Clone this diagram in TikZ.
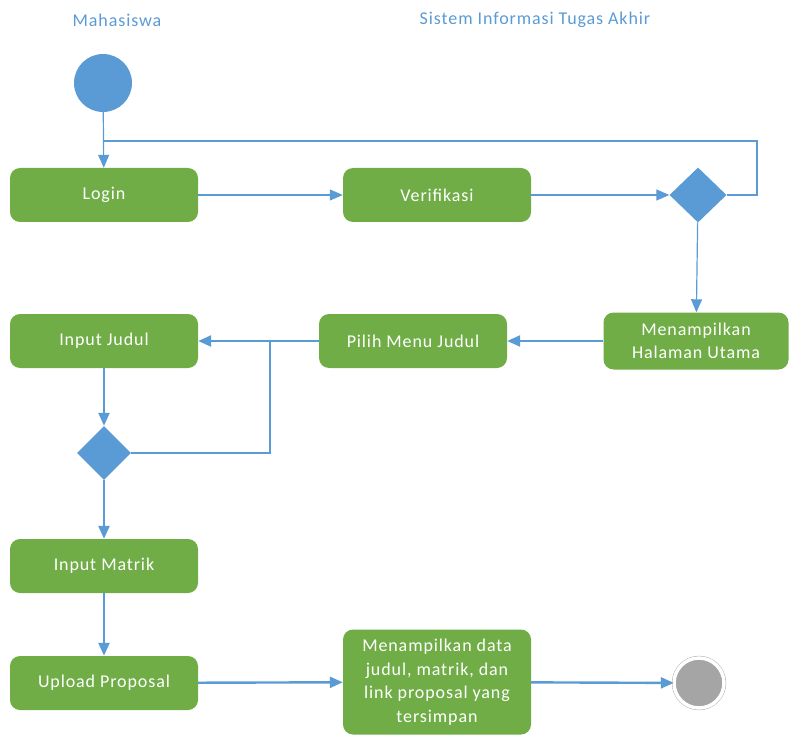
\documentclass[tikz,border=0pt]{standalone}
\usepackage{fontspec}
\setmainfont{Carlito}[LetterSpace=5]
\usepackage{tikz}
\usetikzlibrary{arrows.meta,shapes.geometric}
\definecolor{actgreen}{RGB}{112,173,71}
\definecolor{flowblue}{RGB}{91,155,213}
\definecolor{endgray}{RGB}{165,165,165}

\begin{document}
\begin{tikzpicture}[x=1pt,y=-1pt,>={Triangle[length=13pt,width=11pt]},font=\fontsize{18}{23.5}\selectfont]
\tikzstyle{act}=[rectangle,rounded corners=10pt,fill=actgreen,text=white,minimum width=188pt,minimum height=54pt,align=center,inner sep=2pt]
\tikzstyle{dec}=[diamond,fill=flowblue,minimum width=57pt,minimum height=55pt,inner sep=0pt]
\tikzstyle{lane}=[text=flowblue]
\tikzstyle{flow}=[draw=flowblue,line width=1.2pt]
\tikzstyle{flowb}=[draw=flowblue,line width=2.4pt]
\useasboundingbox (0,0) rectangle (789,735);
\node(lane-mhs)at(117,20)[lane]{Mahasiswa};
\node(lane-sys)at(535,20)[lane]{Sistem Informasi Tugas Akhir};
\node(start)at(103,83)[circle,fill=flowblue,minimum size=58pt,inner sep=0pt]{};
\node(login)at(104,195)[act]{Login};
\node(verif)at(437,195)[act]{Verifikasi};
\node(dec1)at(698,195)[dec]{};
\node(utama)at(696,341)[act,minimum width=185pt,minimum height=57pt]{Menampilkan\\Halaman Utama};
\node(pilih)at(413,341)[act]{Pilih Menu Judul};
\node(judul)at(104,341)[act]{Input Judul};
\node(dec2)at(104,453)[dec,minimum width=54pt,minimum height=54pt]{};
\node(matrik)at(104,566)[act]{Input Matrik};
\node(upload)at(104,683)[act]{Upload Proposal};
\node(tampil)at(437,682)[act,minimum height=105pt]{Menampilkan data\\judul, matrik, dan\\link proposal yang\\tersimpan};
\node(end)at(699,683)[circle,draw=endgray,fill=endgray,double=white,double distance=3.5pt,minimum size=50pt,inner sep=0pt]{};
\coordinate(join1)at(103,141);
\coordinate(loop)at(757,141);
\coordinate(join2)at(270,341);
\draw[flow,->](start)--(login);
\draw[flow,->](login)--(verif);
\draw[flow,->](verif)--(dec1);
\draw[flow](dec1.east)-|(loop)--(join1);
\draw[flow,->](dec1)--(utama);
\draw[flowb,->](utama)--(pilih);
\draw[flowb,->](pilih)--(judul);
\draw[flowb](dec2.east)-|(join2);
\draw[flowb,->](judul)--(dec2);
\draw[flowb,->](dec2)--(matrik);
\draw[flowb,->](matrik)--(upload);
\draw[flowb,->](upload)--(tampil);
\draw[flowb,->](tampil)--(end);
\end{tikzpicture}
\end{document}
